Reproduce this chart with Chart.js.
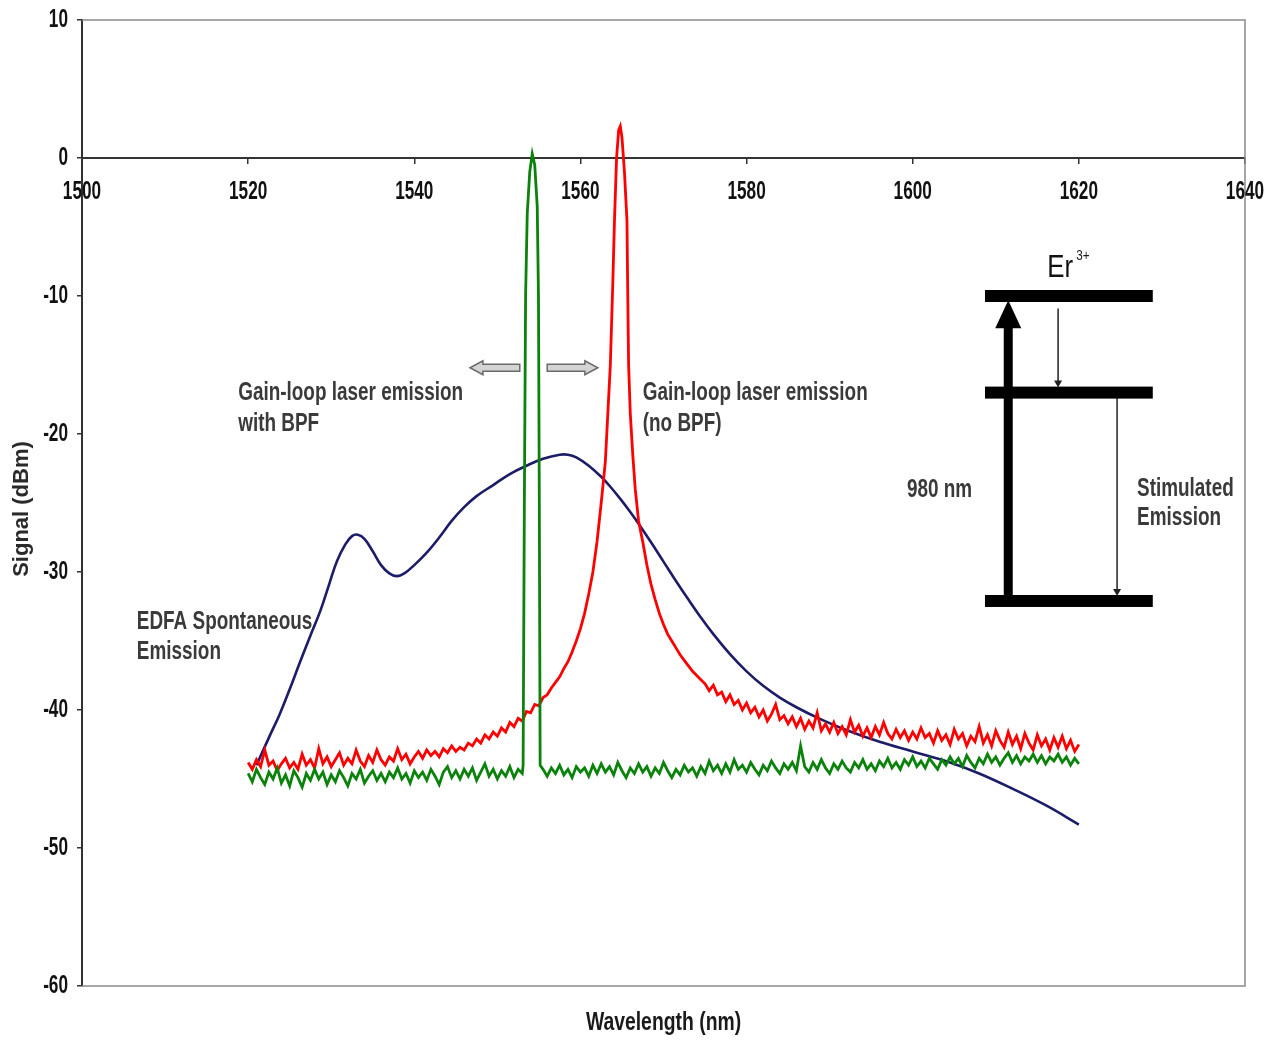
<!DOCTYPE html>
<html lang="en">
<head>
<meta charset="UTF-8">
<title>EDFA gain-loop laser spectrum</title>
<script src="https://cdn.jsdelivr.net/npm/chart.js"></script>
<style>
  html, body { margin: 0; padding: 0; background: #fff; }
  canvas { display: block; }
</style>
</head>
<body>
<canvas id="spectrum" width="1279" height="1041"></canvas>
<script>
// axes
var wlTicks = [1500, 1520, 1540, 1560, 1580, 1600, 1620, 1640];
var dbmTicks = [-60, -50, -40, -30, -20, -10, 0, 10];

// EDFA spontaneous emission (smooth trace)
var aseWl = [1521.0, 1522.5, 1523.8, 1525.0, 1526.2, 1527.5, 1528.7, 1529.8, 1530.7, 1531.7,
             1532.5, 1533.2, 1534.0, 1535.0, 1536.0, 1537.0, 1537.9, 1538.8, 1540.0, 1541.5,
             1543.0, 1544.5, 1546.0, 1547.5, 1549.5, 1551.5, 1553.5, 1555.5, 1557.5, 1558.5,
             1559.5, 1561.0, 1562.5, 1563.5, 1564.8, 1566.0, 1567.0, 1568.5, 1570.0, 1571.5,
             1573.0, 1574.5, 1576.0, 1578.0, 1580.0, 1582.0, 1584.0, 1586.0, 1588.5, 1592.0,
             1596.0, 1600.0, 1604.5, 1608.0, 1612.0, 1616.0, 1620.0];
var aseDbm = [-44.0, -42.0, -40.3, -38.5, -36.6, -34.6, -32.8, -30.8, -29.2, -28.0,
              -27.4, -27.3, -27.6, -28.5, -29.5, -30.1, -30.3, -30.1, -29.5, -28.6,
              -27.5, -26.3, -25.3, -24.5, -23.7, -22.9, -22.3, -21.8, -21.5, -21.5,
              -21.7, -22.3, -23.1, -23.75, -24.7, -25.65, -26.5, -27.85, -29.25, -30.65,
              -32.0, -33.3, -34.5, -35.95, -37.2, -38.25, -39.1, -39.8, -40.55, -41.45,
              -42.3, -43.0, -43.8, -44.6, -45.7, -46.9, -48.3];

// OSA traces are sampled every 0.5 nm, the laser lines at their own points
var STEP_NM = 0.5;

// gain-loop laser, no BPF (red)
var redLowStart = 1520.0;
var redLow = [-43.8, -44.3, -43.6, -44.1, -42.9, -44.0, -43.7, -44.4, -43.9, -43.5,
              -44.2, -43.8, -44.3, -43.2, -44.0, -43.6, -44.2, -42.8, -43.9, -43.4,
              -44.1, -43.6, -43.1, -44.0, -43.5, -43.9, -42.9, -43.7, -44.1, -43.3,
              -43.8, -42.9, -43.6, -44.0, -43.4, -43.7, -42.8, -43.6, -43.2, -43.9,
              -43.4, -43.0, -43.5, -42.9, -43.3, -43.0, -43.4, -42.8, -43.1, -42.6,
              -43.0, -42.7, -42.9, -42.4, -42.6, -42.1, -42.4, -41.8, -42.1, -41.6,
              -41.9, -41.3, -41.6, -40.9, -41.2, -40.6, -40.8, -40.1, -40.2, -39.6,
              -39.7, -39.1, -38.9, -38.4, -38.0, -37.6, -37.0, -36.5, -35.8, -35.0,
              -34.1, -33.0, -31.6, -30.0, -27.8, -25.0];
var redPeakWl = [1563.0, 1563.3, 1563.6, 1563.9, 1564.1, 1564.35, 1564.6, 1564.8, 1565.0,
                 1565.3, 1565.6, 1565.7, 1565.8, 1566.0, 1566.3, 1566.6, 1567.0];
var redPeakDbm = [-22.0, -18.5, -15.0, -9.0, -4.5, 0.0, 2.0, 2.3, 1.5,
                  -1.0, -4.5, -10.0, -15.0, -18.5, -21.5, -24.0, -26.3];
var redTailStart = 1567.5;
var redTail = [-27.8, -29.5, -30.9, -32.0, -33.0, -33.8, -34.5, -35.0, -35.5, -36.0,
               -36.4, -36.8, -37.2, -37.5, -37.8, -38.1, -38.6, -38.2, -38.9, -38.7,
               -39.4, -38.9, -39.6, -39.3, -40.0, -39.5, -40.2, -39.8, -40.5, -40.0,
               -40.8, -40.3, -39.6, -40.7, -40.4, -41.0, -40.5, -41.2, -40.6, -41.4,
               -40.8, -41.3, -40.2, -41.5, -41.0, -41.6, -40.9, -41.7, -41.2, -41.8,
               -40.7, -41.6, -41.1, -41.9, -41.3, -42.0, -41.2, -41.8, -40.9, -41.7,
               -42.1, -41.4, -42.0, -41.5, -42.2, -41.6, -42.1, -41.3, -42.0, -41.7,
               -42.4, -41.5, -42.2, -41.8, -42.5, -41.4, -42.1, -41.7, -42.6, -41.9,
               -42.3, -41.2, -42.4, -41.8, -42.6, -41.5, -42.2, -42.7, -41.6, -42.5,
               -41.9, -42.8, -41.7, -42.4, -42.9, -41.8, -42.6, -42.1, -42.9, -42.0,
               -42.7, -41.9, -42.8, -42.2, -43.0, -42.5];

// gain-loop laser with BPF (green)
var greenLowStart = 1520.0;
var greenLow = [-44.6, -45.2, -44.3, -44.9, -45.4, -44.5, -45.0, -44.2, -45.3, -44.7,
                -45.5, -44.4, -44.9, -45.6, -44.6, -45.1, -44.3, -45.0, -44.5, -45.4,
                -44.7, -45.2, -44.4, -44.9, -45.5, -44.6, -45.0, -44.3, -45.3, -44.8,
                -44.4, -45.1, -44.6, -45.2, -44.5, -44.9, -44.2, -45.0, -44.6, -45.3,
                -44.4, -44.9, -44.5, -45.1, -44.3, -44.8, -45.4, -44.5, -44.1, -44.9,
                -44.4, -45.0, -44.3, -44.8, -44.2, -45.1, -44.5, -43.9, -44.8, -44.3,
                -45.0, -44.4, -44.8, -44.1, -44.9, -44.3, -44.6];
var greenPeakWl = [1553.1, 1553.25, 1553.4, 1553.6, 1553.9, 1554.2, 1554.5, 1554.8, 1554.95, 1555.05, 1555.15];
var greenPeakDbm = [-44.0, -25.0, -10.0, -4.0, -1.0, 0.3, -0.5, -3.5, -10.0, -25.0, -44.0];
var greenHighStart = 1555.5;
var greenHigh = [-44.3, -44.8, -44.2, -44.6, -44.0, -44.7, -44.3, -44.9, -44.1, -44.5,
                 -44.2, -44.8, -44.0, -44.6, -43.9, -44.5, -44.1, -44.7, -43.8, -44.4,
                 -44.9, -44.2, -44.6, -43.9, -44.5, -44.1, -44.8, -44.2, -44.6, -43.8,
                 -44.4, -44.9, -44.3, -44.7, -44.0, -44.5, -44.2, -44.8, -44.1, -44.6,
                 -43.7, -44.4, -44.0, -44.6, -43.9, -44.5, -43.6, -44.3, -44.0, -44.5,
                 -43.8, -44.3, -44.7, -44.0, -44.4, -43.7, -44.2, -44.6, -43.9, -44.3,
                 -43.8, -44.4, -42.6, -44.1, -44.5, -43.8, -44.3, -43.6, -44.2, -44.6,
                 -43.9, -44.3, -43.7, -44.2, -44.5, -43.8, -44.2, -43.6, -44.3, -43.9,
                 -44.4, -43.7, -44.1, -43.5, -44.2, -43.8, -44.3, -43.6, -44.0, -43.4,
                 -44.1, -43.7, -44.2, -43.5, -43.9, -44.3, -43.6, -44.0, -43.4, -43.9,
                 -43.5, -44.1, -43.3, -43.8, -44.2, -43.5, -43.9, -43.2, -43.8, -43.4,
                 -44.0, -43.5, -43.1, -43.8, -43.3, -43.9, -43.4, -43.7, -43.2, -43.8,
                 -43.3, -43.9, -43.4, -43.7, -43.2, -43.8, -43.4, -44.0, -43.5, -43.9];

function sampled(start, values) {
  return values.map(function (v, i) { return { x: start + i * STEP_NM, y: v }; });
}
function paired(xs, ys) {
  return xs.map(function (x, i) { return { x: x, y: ys[i] }; });
}

var asePoints = paired(aseWl, aseDbm);
var redPoints = sampled(redLowStart, redLow).concat(paired(redPeakWl, redPeakDbm), sampled(redTailStart, redTail));
var greenPoints = sampled(greenLowStart, greenLow).concat(paired(greenPeakWl, greenPeakDbm), sampled(greenHighStart, greenHigh));

// text on the plot, placed in axis units
var notes = [
  { text: 'Gain-loop laser emission', wl: 1518.8, dbm: -17.5 },
  { text: 'with BPF', wl: 1518.8, dbm: -19.8 },
  { text: 'Gain-loop laser emission', wl: 1567.5, dbm: -17.5 },
  { text: '(no BPF)', wl: 1567.5, dbm: -19.8 },
  { text: 'EDFA Spontaneous', wl: 1506.6, dbm: -34.1 },
  { text: 'Emission', wl: 1506.6, dbm: -36.3 },
  { text: '980 nm', wl: 1599.3, dbm: -24.6 },
  { text: 'Stimulated', wl: 1627.0, dbm: -24.5 },
  { text: 'Emission', wl: 1627.0, dbm: -26.6 }
];

// Er3+ level scheme
var levelWl = [1608.7, 1628.9];
var levelDbm = [-10.0, -17.0, -32.1];

var FONT = '"Liberation Sans", Arial, sans-serif';

function drawText(ctx, str, x, y, o) {
  ctx.save();
  ctx.translate(x, y);
  if (o.rotate) ctx.rotate(o.rotate);
  ctx.scale(o.sx || 1, o.sy || 1);
  ctx.font = (o.weight || 'bold') + ' ' + o.size + 'px ' + FONT;
  ctx.fillStyle = o.color || '#222';
  ctx.textAlign = o.align || 'left';
  ctx.textBaseline = o.baseline || 'alphabetic';
  ctx.fillText(str, 0, 0);
  ctx.restore();
}

function hollowArrow(ctx, xFrom, xTo, y) {
  var dir = xTo > xFrom ? 1 : -1;
  var hx = xTo - dir * 13;
  ctx.save();
  ctx.beginPath();
  ctx.moveTo(xFrom, y - 3.5);
  ctx.lineTo(hx, y - 3.5);
  ctx.lineTo(hx, y - 7);
  ctx.lineTo(xTo, y);
  ctx.lineTo(hx, y + 7);
  ctx.lineTo(hx, y + 3.5);
  ctx.lineTo(xFrom, y + 3.5);
  ctx.closePath();
  ctx.fillStyle = '#d4d4d4';
  ctx.fill();
  ctx.lineWidth = 1.5;
  ctx.strokeStyle = '#6a6a6a';
  ctx.stroke();
  ctx.restore();
}

function downArrow(ctx, x, yTop, yTip) {
  ctx.save();
  ctx.strokeStyle = '#222';
  ctx.fillStyle = '#222';
  ctx.lineWidth = 1.5;
  ctx.beginPath();
  ctx.moveTo(x, yTop);
  ctx.lineTo(x, yTip - 6);
  ctx.stroke();
  ctx.beginPath();
  ctx.moveTo(x - 4, yTip - 7);
  ctx.lineTo(x + 4, yTip - 7);
  ctx.lineTo(x, yTip);
  ctx.closePath();
  ctx.fill();
  ctx.restore();
}

// plot frame: top, right and bottom edges
var framePlugin = {
  id: 'frame',
  beforeDatasetsDraw: function (chart) {
    var a = chart.chartArea, ctx = chart.ctx;
    ctx.save();
    ctx.strokeStyle = '#8a8a8a';
    ctx.lineWidth = 1.5;
    ctx.beginPath();
    ctx.moveTo(a.left, a.top);
    ctx.lineTo(a.right, a.top);
    ctx.lineTo(a.right, a.bottom);
    ctx.lineTo(a.left, a.bottom);
    ctx.stroke();
    ctx.restore();
  }
};

// tick labels, axis titles, notes and the level scheme
var labelPlugin = {
  id: 'labels',
  afterDraw: function (chart) {
    var ctx = chart.ctx, xs = chart.scales.x, ys = chart.scales.y, a = chart.chartArea;
    var px = function (v) { return xs.getPixelForValue(v); };
    var py = function (v) { return ys.getPixelForValue(v); };
    var y0 = py(0);

    xs.ticks.forEach(function (t) {
      drawText(ctx, String(t.value), px(t.value), y0 + 34, { size: 20, sx: 0.86, sy: 1.25, align: 'center', baseline: 'middle', color: '#111' });
    });
    ys.ticks.forEach(function (t) {
      drawText(ctx, String(t.value), a.left - 14, py(t.value), { size: 20, sx: 0.86, sy: 1.25, align: 'right', baseline: 'middle', color: '#111' });
    });

    drawText(ctx, 'Wavelength (nm)', (a.left + a.right) / 2, a.bottom + 37, { size: 22, sx: 0.88, sy: 1.15, align: 'center', baseline: 'middle', color: '#1a1a1a' });
    drawText(ctx, 'Signal (dBm)', 22, (a.top + a.bottom) / 2 + 6, { size: 22, rotate: -Math.PI / 2, align: 'center', baseline: 'middle', color: '#2a2a2a' });

    notes.forEach(function (n) {
      drawText(ctx, n.text, px(n.wl), py(n.dbm), { size: 22, sx: 0.86, sy: 1.15, color: '#3a3a3a' });
    });

    // arrows either side of the filtered line
    hollowArrow(ctx, px(1552.7), px(1546.7), py(-15.2));
    hollowArrow(ctx, px(1556.0), px(1562.1), py(-15.2));

    // energy levels
    ctx.save();
    ctx.fillStyle = '#000';
    var l0 = px(levelWl[0]), l1 = px(levelWl[1]);
    levelDbm.forEach(function (d) {
      ctx.fillRect(l0, py(d) - 6, l1 - l0, 12);
    });
    // pump arrow
    var pxPump = px(1611.5), tip = py(-10.3);
    ctx.fillRect(pxPump - 4.5, tip + 26, 9, py(levelDbm[2]) - tip - 26);
    ctx.beginPath();
    ctx.moveTo(pxPump - 13, tip + 28);
    ctx.lineTo(pxPump + 13, tip + 28);
    ctx.lineTo(pxPump, tip);
    ctx.closePath();
    ctx.fill();
    ctx.restore();

    downArrow(ctx, px(1617.5), py(-10.9), py(-17.0) - 5);
    downArrow(ctx, px(1624.6), py(-17.4), py(-32.1) - 5);

    drawText(ctx, 'Er', px(1616.2), py(-8.6), { size: 30, weight: 'normal', sx: 0.86, sy: 1.05, color: '#111' });
    drawText(ctx, '3+', px(1619.7), py(-7.4), { size: 13, weight: 'normal', sx: 0.9, sy: 1.1, color: '#1a1a1a' });
  }
};

new Chart(document.getElementById('spectrum').getContext('2d'), {
  type: 'line',
  data: {
    datasets: [
      { label: 'Gain-loop laser emission with BPF', data: greenPoints, borderColor: '#0b820b', borderWidth: 2.8, pointRadius: 0, tension: 0 },
      { label: 'Gain-loop laser emission (no BPF)', data: redPoints, borderColor: '#ff0000', borderWidth: 2.8, pointRadius: 0, tension: 0 },
      { label: 'EDFA Spontaneous Emission', data: asePoints, borderColor: '#1c1c68', borderWidth: 2.6, pointRadius: 0, tension: 0.4 }
    ]
  },
  options: {
    responsive: false,
    animation: false,
    layout: { padding: { top: 20, right: 34, bottom: 55, left: 0 } },
    plugins: { legend: { display: false }, tooltip: { enabled: false } },
    scales: {
      x: {
        type: 'linear',
        min: wlTicks[0],
        max: wlTicks[wlTicks.length - 1],
        position: { y: 0 },
        ticks: { stepSize: wlTicks[1] - wlTicks[0], display: false },
        grid: { drawOnChartArea: false, drawTicks: true, tickLength: 5, color: '#333', lineWidth: 1.5 },
        border: { display: true, color: '#333', width: 2 },
        afterFit: function (s) { s.height = 0; }
      },
      y: {
        type: 'linear',
        min: dbmTicks[0],
        max: dbmTicks[dbmTicks.length - 1],
        ticks: { stepSize: dbmTicks[1] - dbmTicks[0], display: false },
        grid: { drawOnChartArea: false, drawTicks: true, tickLength: 5, color: '#333', lineWidth: 1.5 },
        border: { display: true, color: '#333', width: 2 },
        afterFit: function (s) { s.width = 82; }
      }
    }
  },
  plugins: [framePlugin, labelPlugin]
});
</script>
</body>
</html>
